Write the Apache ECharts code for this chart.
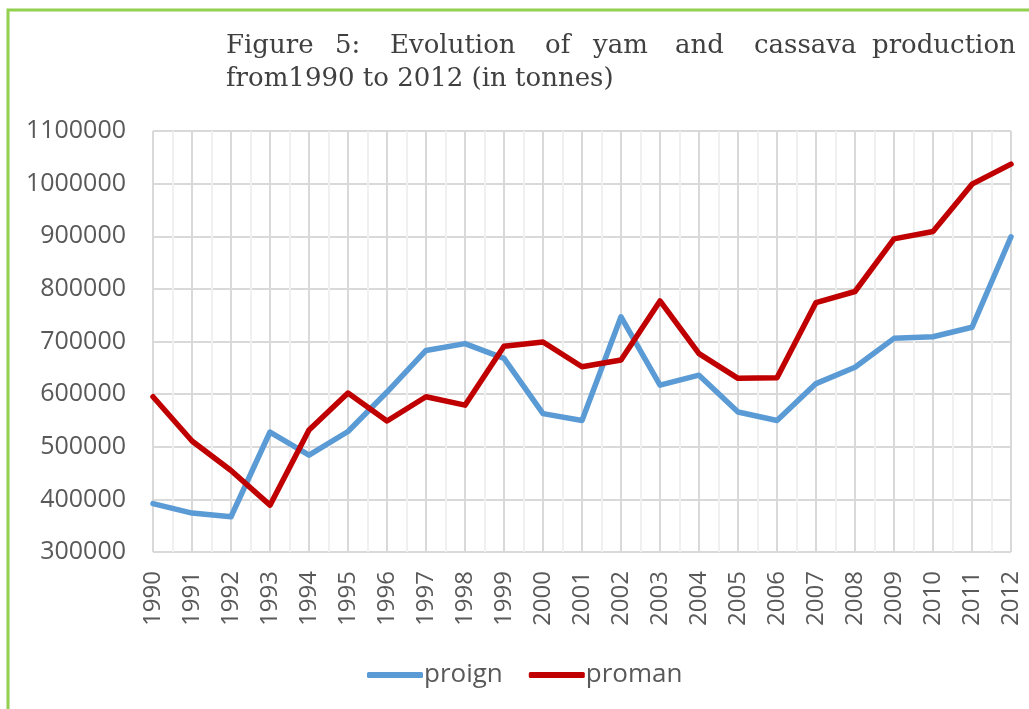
<!DOCTYPE html>
<html style="height: 100%">
<head>
    <meta charset="utf-8">
    <script src="https://cdn.jsdelivr.net/npm/echarts@6/dist/echarts.min.js"></script>
</head>
<body style="height: 100%; margin: 0; background: #fff">
    <div id="main" style="width: 1029px; height: 709px"></div>
    <script type="text/javascript">
    var years = ['1990', '1991', '1992', '1993', '1994', '1995', '1996', '1997', '1998', '1999', '2000',
        '2001', '2002', '2003', '2004', '2005', '2006', '2007', '2008', '2009', '2010', '2011', '2012'];
    // yam production
    var proign = [392000, 374000, 367000, 528000, 484000, 529000, 604000, 683000, 696000, 668000, 563000,
        550000, 747000, 617000, 636000, 566000, 550000, 620000, 651000, 706000, 709000, 727000, 899000];
    // cassava production
    var proman = [595000, 511000, 455000, 389000, 532000, 602000, 549000, 595000, 579000, 691000, 699000,
        652000, 665000, 777000, 677000, 630000, 631000, 774000, 795000, 895000, 909000, 999000, 1037000];
    var yTicks = [300000, 1100000, 100000]; // min, max, step

    // first title line is justified in the source, so each word is placed on its own
    var titleWords = ['Figure', '5:', 'Evolution', 'of', 'yam', 'and', 'cassava', 'production'];
    var wordX = [226, 335, 390, 545, 593, 675, 754, 872];
    var titleLine2 = 'from1990 to 2012 (in tonnes)';

    var dom = document.getElementById('main');
    var myChart = echarts.init(dom);

    var graphics = [{
        type: 'polyline',
        shape: { points: [[8, 709], [8, 10], [1029, 10]] },
        style: { stroke: '#92d050', lineWidth: 3, fill: null }
    }];
    titleWords.forEach(function (w, i) {
        graphics.push({
            type: 'text', x: wordX[i], y: 46,
            style: { text: w, fontFamily: 'DejaVu Serif', fontSize: 26, fill: '#404040', verticalAlign: 'middle' }
        });
    });
    graphics.push({
        type: 'text', x: 226, y: 79,
        style: { text: titleLine2, fontFamily: 'DejaVu Serif', fontSize: 26, fill: '#404040', verticalAlign: 'middle' }
    });

    var labelFont = { fontFamily: 'Open Sans', color: '#595959' };

    var option = {
        animation: false,
        graphic: graphics,
        grid: { left: 153, right: 18, top: 131, bottom: 157, containLabel: false },
        legend: {
            data: ['proign', 'proman'],
            icon: 'roundRect',
            left: 362,
            top: 657,
            itemWidth: 56,
            itemHeight: 6,
            itemGap: 26,
            textStyle: { fontFamily: 'Open Sans', fontSize: 26, color: '#595959', padding: [0, 0, 0, -4] }
        },
        xAxis: [{
            type: 'category',
            data: years,
            boundaryGap: false,
            axisLine: { show: false },
            axisTick: { show: false },
            splitLine: { show: false },
            axisLabel: Object.assign({ rotate: 90, fontSize: 24, margin: 19, interval: 0 }, labelFont)
        }, {
            // helper axis only for the major/minor vertical gridlines
            type: 'value',
            min: 0,
            max: 22,
            interval: 0.5,
            position: 'bottom',
            axisLine: { show: false },
            axisTick: { show: false },
            axisLabel: { show: false },
            splitLine: { show: true, lineStyle: { color: ['#d9d9d9', '#f0f0f0'], width: 2 } }
        }],
        yAxis: {
            type: 'value',
            min: yTicks[0],
            max: yTicks[1],
            interval: yTicks[2],
            axisLine: { show: false },
            axisTick: { show: false },
            axisLabel: Object.assign({ fontSize: 25, margin: 27, formatter: function (v) { return String(v); } }, labelFont),
            splitLine: { lineStyle: { color: '#d9d9d9', width: 2 } }
        },
        series: [{
            name: 'proign',
            type: 'line',
            data: proign,
            symbol: 'none',
            color: '#5b9bd5',
            lineStyle: { width: 5.5, color: '#5b9bd5', cap: 'round', join: 'round' }
        }, {
            name: 'proman',
            type: 'line',
            data: proman,
            symbol: 'none',
            color: '#c00000',
            lineStyle: { width: 5.5, color: '#c00000', cap: 'round', join: 'round' }
        }]
    };
    myChart.setOption(option);
    </script>
</body>
</html>
